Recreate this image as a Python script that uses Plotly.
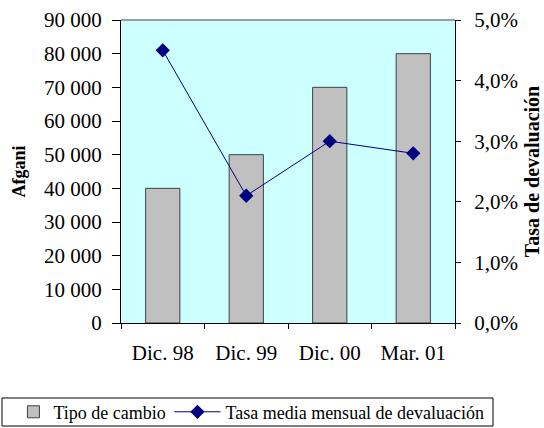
import plotly.graph_objects as go

categories = ["Dic. 98", "Dic. 99", "Dic. 00", "Mar. 01"]
tipo_cambio = [40000, 50000, 70000, 80000]
tasa_devaluacion = [4.5, 2.1, 3.0, 2.8]

FONT = "Liberation Serif, Times New Roman, serif"

fig = go.Figure()
fig.add_trace(go.Bar(
    x=categories, y=tipo_cambio, name="Tipo de cambio",
    marker=dict(color="#C0C0C0", line=dict(color="#404040", width=1)),
    width=0.41, legend="legend",
))
fig.add_trace(go.Scatter(
    x=categories, y=tasa_devaluacion, name="Tasa media mensual de devaluación",
    yaxis="y2", mode="lines+markers",
    line=dict(color="#000080", width=1),
    marker=dict(symbol="diamond", size=11, color="#000080"),
    legend="legend2",
))

leg_common = dict(orientation="h", yanchor="middle", y=-0.294, xanchor="left",
                  bgcolor="rgba(0,0,0,0)", borderwidth=0,
                  font=dict(family=FONT, size=18, color="black"))

fig.update_layout(
    width=544, height=428,
    margin=dict(l=121, r=89, t=20, b=105, autoexpand=False),
    paper_bgcolor="white", plot_bgcolor="#CCFFFF",
    separators=", ",
    font=dict(family=FONT, size=21, color="black"),
    showlegend=True,
    legend=dict(x=-0.322, itemwidth=30, **leg_common),
    legend2=dict(x=0.145, itemwidth=46, **leg_common),
    xaxis=dict(type="category", showline=True, linecolor="black", linewidth=1,
               ticks="outside", ticklen=5, tickcolor="black", tickson="boundaries",
               ticklabelstandoff=11, showgrid=False, zeroline=False,
               tickfont=dict(family=FONT, size=21)),
    yaxis=dict(range=[0, 90000], dtick=10000, tickformat=",d",
               showline=True, linecolor="black", ticks="outside", ticklen=8,
               tickcolor="black", showgrid=False, zeroline=False,
               ticklabelstandoff=6, tickfont=dict(family=FONT, size=21),
               title=dict(text="<b>Afgani</b>", font=dict(family=FONT, size=18), standoff=13),
               automargin=False),
    yaxis2=dict(range=[0, 5], dtick=1, tickformat=".1f", ticksuffix="%",
                overlaying="y", side="right",
                showline=True, linecolor="black", ticks="outside", ticklen=5,
                tickcolor="black", showgrid=False, zeroline=False,
                ticklabelstandoff=9, tickfont=dict(family=FONT, size=21),
                title=dict(text="<b>Tasa de devaluación</b>", font=dict(family=FONT, size=20), standoff=8),
                automargin=False),
    shapes=[
        dict(type="line", xref="paper", yref="paper", x0=0, x1=1, y0=1, y1=1,
             line=dict(color="#808080", width=1.5)),
        dict(type="rect", xref="paper", yref="paper", x0=-0.3563, x1=1.1138,
             y0=-0.34, y1=-0.2475, line=dict(color="black", width=1)),
    ],
)

fig.write_html("out.html", config={"displayModeBar": False},
               post_script="document.body.style.margin='0px';")
